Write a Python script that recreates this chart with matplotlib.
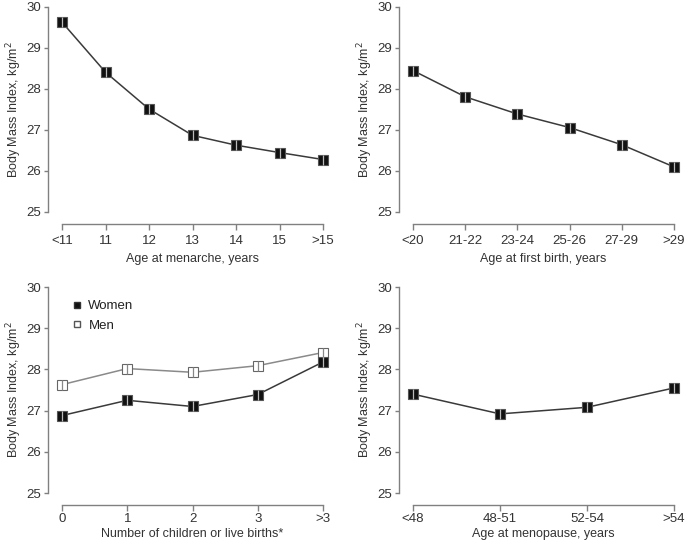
import matplotlib
matplotlib.use("Agg")
import matplotlib.pyplot as plt
from matplotlib.lines import Line2D

plt.rcParams['font.family'] = ['Liberation Sans', 'DejaVu Sans']

# DATOS
menarca_cat = ["<11", "11", "12", "13", "14", "15", ">15"]
menarca_bmi = [29.63, 28.41, 27.51, 26.87, 26.63, 26.45, 26.28]

parto_cat = ["<20", "21-22", "23-24", "25-26", "27-29", ">29"]
parto_bmi = [28.45, 27.81, 27.39, 27.06, 26.64, 26.10]

hijos_cat = ["0", "1", "2", "3", ">3"]
hijos_mujeres = [26.88, 27.25, 27.10, 27.39, 28.18]
hijos_hombres = [27.63, 28.02, 27.93, 28.09, 28.41]

meno_cat = ["<48", "48-51", "52-54", ">54"]
meno_bmi = [27.40, 26.92, 27.08, 27.55]

y_ticks = [25, 26, 27, 28, 29, 30]
ylabel = "Body Mass Index, kg/m$^2$"

W, H = 685, 541
fig = plt.figure(figsize=(W / 100, H / 100), dpi=100)


def crear_ejes(x0, x1, ytop, ybot):
    ax = fig.add_axes([x0 / W, 1 - ybot / H, (x1 - x0) / W, (ybot - ytop) / H])
    return ax


def estilo(ax, cats, xlabel, xpad, xlabelpad):
    n = len(cats)
    ax.set_xlim(0, n - 1)
    ax.set_ylim(25, 30)
    for s in ['top', 'right']:
        ax.spines[s].set_visible(False)
    ax.spines['left'].set_position(('outward', 10))
    ax.spines['bottom'].set_position(('outward', 8.5))
    ax.spines['left'].set_bounds(25, 30)
    ax.spines['bottom'].set_bounds(0, n - 1)
    for s in ['left', 'bottom']:
        ax.spines[s].set_color('#808080')
        ax.spines[s].set_linewidth(1.0)
    ax.set_xticks(range(n))
    ax.set_xticklabels(cats)
    ax.set_yticks(y_ticks)
    ax.tick_params(axis='both', direction='out', width=1.0,
                   color='#808080', labelcolor='#333333', labelsize=9.5)
    ax.tick_params(axis='y', length=3, pad=2.2)
    ax.tick_params(axis='x', length=4.3, pad=xpad)
    ax.set_xlabel(xlabel, fontsize=9, color='#333333', labelpad=xlabelpad)
    ax.set_ylabel(ylabel, fontsize=9, color='#333333', labelpad=1.5)


def serie(ax, valores, color_linea, relleno, borde, raya):
    x = range(len(valores))
    ax.plot(x, valores, color=color_linea, linewidth=1.1, zorder=2, clip_on=False)
    ax.plot(x, valores, linestyle='none', marker='s', markersize=6.5,
            markerfacecolor=relleno, markeredgecolor=borde, markeredgewidth=0.8,
            zorder=3, clip_on=False)
    ax.plot(x, valores, linestyle='none', marker='|', markersize=6.5,
            markeredgecolor=raya, markeredgewidth=0.9, zorder=4, clip_on=False)


# Panel 1
ax1 = crear_ejes(62, 323, 7, 212)
serie(ax1, menarca_bmi, '#3a3a3a', '#111111', '#555555', '#bbbbbb')
estilo(ax1, menarca_cat, "Age at menarche, years", 3.6, 4.7)

# Panel 2
ax2 = crear_ejes(413, 674, 7, 212)
serie(ax2, parto_bmi, '#3a3a3a', '#111111', '#555555', '#bbbbbb')
estilo(ax2, parto_cat, "Age at first birth, years", 3.6, 4.7)

# Panel 3
ax3 = crear_ejes(62, 323, 287, 493)
serie(ax3, hijos_hombres, '#8a8a8a', 'white', '#666666', '#888888')
serie(ax3, hijos_mujeres, '#3a3a3a', '#111111', '#555555', '#bbbbbb')
estilo(ax3, hijos_cat, "Number of children or live births*", 1.4, 2.5)
handles = [
    Line2D([], [], linestyle='none', marker='s', markersize=4.5,
           markerfacecolor='#111111', markeredgecolor='#333333', label='Women'),
    Line2D([], [], linestyle='none', marker='s', markersize=4.5,
           markerfacecolor='white', markeredgecolor='#555555', label='Men'),
]
leg = ax3.legend(handles=handles, loc='upper left', bbox_to_anchor=(0.0, 0.975),
                 frameon=False, fontsize=9.5, handlelength=1.0, handletextpad=0.4,
                 labelspacing=0.55, borderaxespad=0.2)
for t in leg.get_texts():
    t.set_color('#222222')

# Panel 4
ax4 = crear_ejes(413, 674, 287, 493)
serie(ax4, meno_bmi, '#3a3a3a', '#111111', '#555555', '#bbbbbb')
estilo(ax4, meno_cat, "Age at menopause, years", 1.4, 2.5)

fig.savefig("out.png", dpi=100)
